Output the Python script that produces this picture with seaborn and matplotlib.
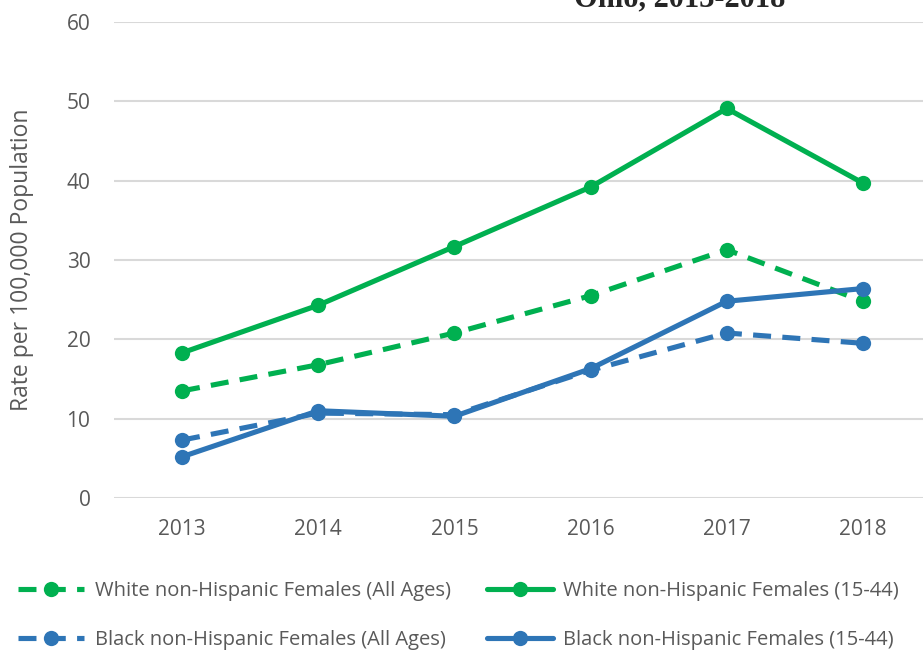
import matplotlib
matplotlib.use("Agg")
import matplotlib.pyplot as plt
import seaborn as sns
import pandas as pd

years = [2013, 2014, 2015, 2016, 2017, 2018]
white_all = [13.5, 16.8, 20.8, 25.5, 31.3, 24.8]
white_1544 = [18.3, 24.3, 31.7, 39.2, 49.1, 39.7]
black_all = [7.3, 10.7, 10.5, 16.1, 20.8, 19.5]
black_1544 = [5.2, 11.0, 10.3, 16.3, 24.8, 26.4]

labels = ["White non-Hispanic Females (All Ages)",
          "White non-Hispanic Females (15-44)",
          "Black non-Hispanic Females (All Ages)",
          "Black non-Hispanic Females (15-44)"]
green = "#00B050"
blue = "#2E75B6"

sns.set_style("white")
plt.rcParams['font.family'] = ['Open Sans', 'DejaVu Sans']

fig = plt.figure(figsize=(9.23, 6.51), dpi=100)
ax = fig.add_axes([114/923, 1-498/651, 817/923, 476/651])

series = [(white_all, labels[0], green, True),
          (white_1544, labels[1], green, False),
          (black_all, labels[2], blue, True),
          (black_1544, labels[3], blue, False)]
lines = {}
for vals, lab, col, dashed in series:
    df = pd.DataFrame({"year": years, "rate": vals})
    sns.lineplot(data=df, x="year", y="rate", ax=ax, color=col, lw=3.7,
                 marker="o", markersize=11, markeredgewidth=0, label=lab)
    ln = ax.get_lines()[-1]
    if dashed:
        ln.set_dashes((3.5, 2.2))
        ln.set_dash_capstyle("butt")
    lines[lab] = ln

ax.set_xlim(2012.5, 2018.5)
ax.set_ylim(0, 60)
ax.set_yticks(range(0, 61, 10))
ax.set_xticks(years)
ax.yaxis.grid(True, color="#D9D9D9", lw=1.5)
ax.set_axisbelow(True)
for s in ax.spines.values():
    s.set_visible(False)
ax.tick_params(axis="both", length=0, labelsize=15, colors="#595959")
ax.tick_params(axis="x", pad=15)
ax.tick_params(axis="y", pad=17)
ax.set_xlabel("")
ax.set_ylabel("Rate per 100,000 Population", fontsize=16.5, color="#595959")
ax.yaxis.set_label_coords(-0.098, 0.5)
ax.get_legend().remove()

order = [labels[0], labels[2], labels[1], labels[3]]
fig.legend([lines[l] for l in order], order, ncol=2, frameon=False,
           loc="upper left", bbox_to_anchor=(18/923, 1-581/651),
           fontsize=14.5, labelcolor="#595959", handlelength=3.3,
           handletextpad=0.5, columnspacing=1.8, labelspacing=1.45,
           borderaxespad=0, borderpad=0)

fig.text(680/923, 1-6/651, "Ohio, 2013-2018", ha="center", va="baseline",
         fontsize=22, fontweight="bold", family="Liberation Serif")

fig.savefig("out.png", dpi=100)
